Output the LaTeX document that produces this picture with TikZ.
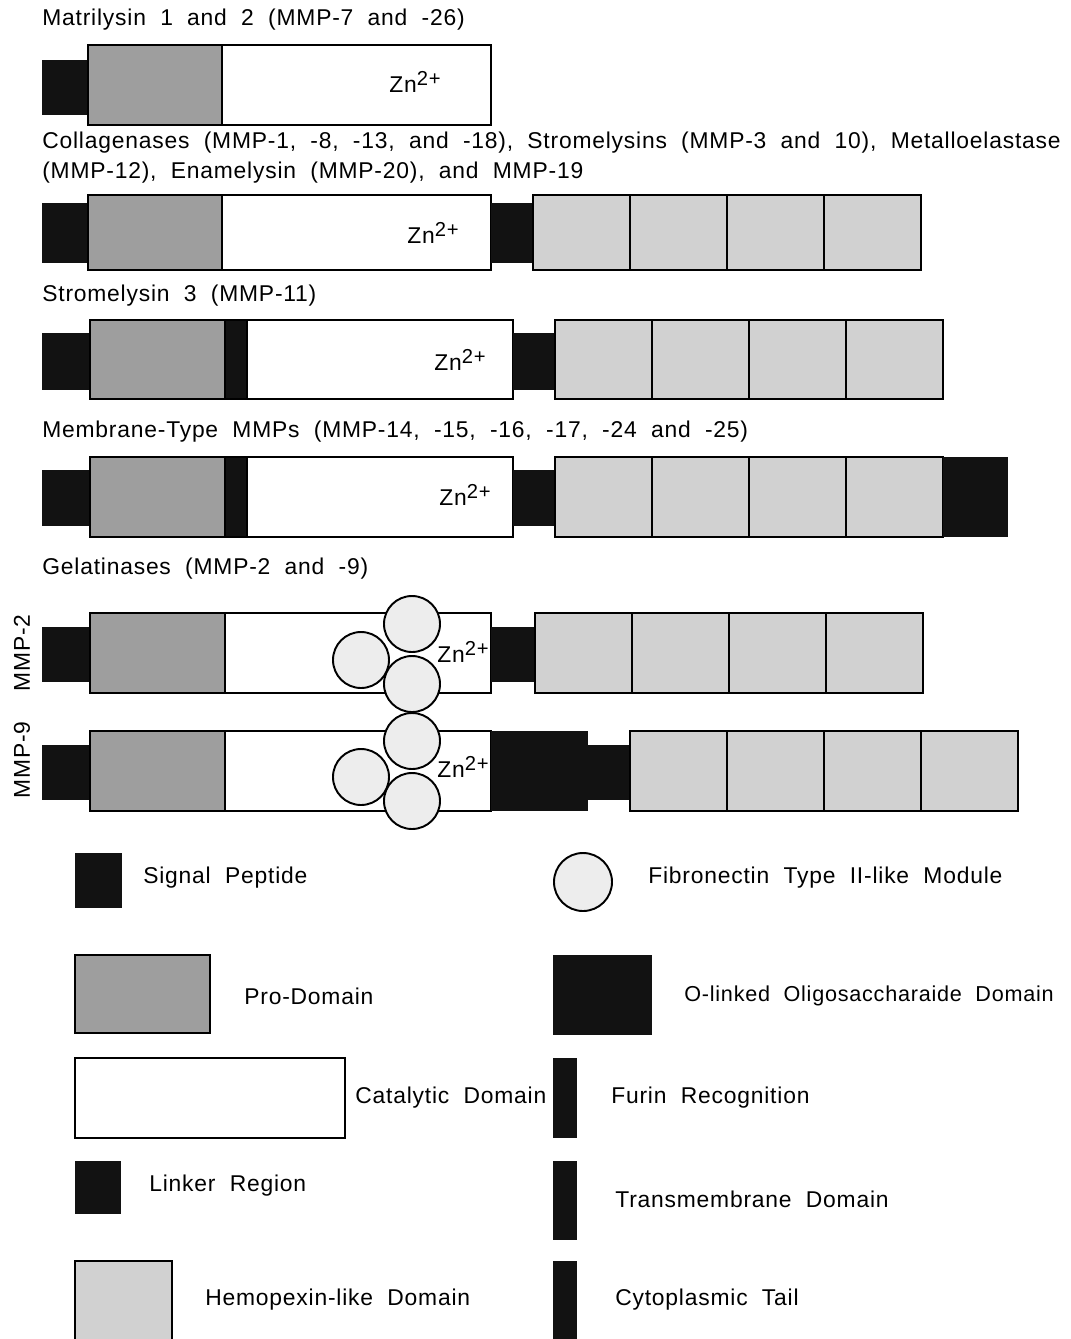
\documentclass[tikz,border=0pt]{standalone}
\usepackage{fontspec}
\setmainfont{Liberation Sans}[LetterSpace=3.5,WordSpace=2]
\usepackage{xcolor}
\definecolor{prodom}{gray}{0.62}
\definecolor{hemodom}{gray}{0.82}
\definecolor{fndom}{gray}{0.93}
\definecolor{blackdom}{gray}{0.07}
\newcommand{\znion}{Zn\raisebox{0.55ex}{\fontsize{11.5}{13}\selectfont 2+}}

\begin{document}
\begin{tikzpicture}[x=0.02cm,y=-0.02cm,
    dom/.style={draw=black,line width=1.1pt},
    pro/.style={dom,fill=prodom},
    cat/.style={dom,fill=white},
    hemo/.style={dom,fill=hemodom},
    blk/.style={fill=blackdom},
    fnmod/.style={dom,fill=fndom},
    lbl/.style={anchor=west,inner sep=0pt,font=\fontsize{13}{15}\selectfont},
    zn/.style={inner sep=0pt,font=\fontsize{13}{15}\selectfont}]
    \useasboundingbox (0,0) rectangle (1071,1339);

    % Matrilysin
    \node[lbl] (t1) at (42,20) {Matrilysin 1 and 2 (MMP-7 and -26)};
    \fill[blk] (42,60) rectangle (88,115);
    \draw[pro] (88,45) rectangle (222,125);
    \draw[cat] (222,45) rectangle (491,125);
    \node[zn] (zn1) at (415,82) {\znion};

    % Collagenases etc.
    \node[lbl] (t2a) at (42,143) {Collagenases (MMP-1, -8, -13, and -18), Stromelysins (MMP-3 and 10), Metalloelastase};
    \node[lbl] (t2b) at (42,173) {(MMP-12), Enamelysin (MMP-20), and MMP-19};
    \fill[blk] (42,203) rectangle (88,263);
    \draw[pro] (88,195) rectangle (222,270);
    \draw[cat] (222,195) rectangle (491,270);
    \fill[blk] (491,203) rectangle (533,263);
    \foreach \i in {0,...,3}
        \draw[hemo] ({533+97*\i},195) rectangle ++(97,75);
    \node[zn] (zn2) at (433,233) {\znion};

    % Stromelysin 3
    \node[lbl] (t3) at (42,296) {Stromelysin 3 (MMP-11)};
    \fill[blk] (42,333) rectangle (90,390);
    \draw[pro] (90,320) rectangle (225,399);
    \draw[dom,fill=blackdom] (225,320) rectangle (247,399);
    \draw[cat] (247,320) rectangle (513,399);
    \fill[blk] (513,333) rectangle (555,390);
    \foreach \i in {0,...,3}
        \draw[hemo] ({555+97*\i},320) rectangle ++(97,79);
    \node[zn] (zn3) at (460,360) {\znion};

    % MT-MMPs
    \node[lbl] (t4) at (42,432) {Membrane-Type MMPs (MMP-14, -15, -16, -17, -24 and -25)};
    \fill[blk] (42,470) rectangle (90,526);
    \draw[pro] (90,457) rectangle (225,537);
    \draw[dom,fill=blackdom] (225,457) rectangle (247,537);
    \draw[cat] (247,457) rectangle (513,537);
    \fill[blk] (513,470) rectangle (555,526);
    \foreach \i in {0,...,3}
        \draw[hemo] ({555+97*\i},457) rectangle ++(97,80);
    \fill[blk] (943,457) rectangle (1008,537);
    \node[zn] (zn4) at (465,495) {\znion};

    % Gelatinases
    \node[lbl] (t5) at (42,569) {Gelatinases (MMP-2 and -9)};
    \node[zn,rotate=90] (m2) at (22,653) {MMP-2};
    \fill[blk] (42,627) rectangle (90,682);
    \draw[pro] (90,613) rectangle (225,693);
    \draw[cat] (225,613) rectangle (491,693);
    \fill[blk] (491,627) rectangle (535,682);
    \foreach \i in {0,...,3}
        \draw[hemo] ({535+97*\i},613) rectangle ++(97,80);
    \draw[fnmod] (361,660) circle[radius=28];
    \draw[fnmod] (412,624) circle[radius=28];
    \draw[fnmod] (412,684) circle[radius=28];
    \node[zn] (zn5) at (463,652) {\znion};

    \node[zn,rotate=90] (m9) at (22,760) {MMP-9};
    \fill[blk] (42,745) rectangle (90,800);
    \draw[pro] (90,731) rectangle (225,811);
    \draw[cat] (225,731) rectangle (491,811);
    \fill[blk] (491,731) rectangle (588,811);
    \fill[blk] (588,745) rectangle (630,800);
    \foreach \i in {0,...,3}
        \draw[hemo] ({630+97*\i},731) rectangle ++(97,80);
    \draw[fnmod] (361,777) circle[radius=28];
    \draw[fnmod] (412,741) circle[radius=28];
    \draw[fnmod] (412,801) circle[radius=28];
    \node[zn] (zn6) at (463,767) {\znion};

    % key
    \fill[blk] (75,853) rectangle (122,908);
    \node[lbl] (k1) at (143,878) {Signal Peptide};
    \draw[fnmod] (583,882) circle[radius=29];
    \node[lbl] (k2) at (648,878) {Fibronectin Type II-like Module};
    \draw[pro] (75,955) rectangle (210,1033);
    \node[lbl] (k3) at (244,996) {Pro-Domain};
    \fill[blk] (553,955) rectangle (652,1035);
    \node[lbl,font=\fontsize{12.3}{15}\selectfont] (k4) at (684,996) {O-linked Oligosaccharaide Domain};
    \draw[cat] (75,1058) rectangle (345,1138);
    \node[lbl] (k5) at (355,1098) {Catalytic Domain};
    \fill[blk] (553,1058) rectangle (577,1138);
    \node[lbl] (k6) at (611,1098) {Furin Recognition};
    \fill[blk] (75,1161) rectangle (121,1214);
    \node[lbl] (k7) at (149,1186) {Linker Region};
    \fill[blk] (553,1161) rectangle (577,1240);
    \node[lbl] (k8) at (615,1199) {Transmembrane Domain};
    \draw[hemo] (75,1261) rectangle (172,1345);
    \node[lbl] (k9) at (205,1300) {Hemopexin-like Domain};
    \fill[blk] (553,1261) rectangle (577,1345);
    \node[lbl] (k10) at (615,1300) {Cytoplasmic Tail};
\end{tikzpicture}
\end{document}
